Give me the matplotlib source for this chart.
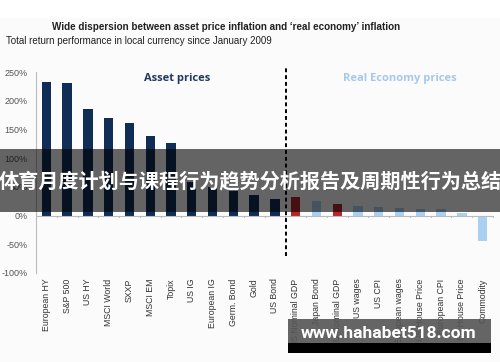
import matplotlib
matplotlib.use("Agg")
import matplotlib.pyplot as plt
from matplotlib.patches import Rectangle

categories = ["European HY", "S&P 500", "US HY", "MSCI World", "SXXP", "MSCI EM", "Topix",
              "US IG", "European IG", "Germ. Bond", "Gold", "US Bond",
              "US Nominal GDP", "Japan Bond", "EU Nominal GDP", "US wages", "US CPI",
              "European wages", "US House Price", "European CPI", "EA House Price", "Commodity"]
values = [233, 230, 185, 170, 161, 138, 126, 58, 50, 43, 36, 28,
          33, 26, 21, 17, 15, 13, 12, 12, 4, -44]
groups = ["asset"] * 12 + ["gdp", "real", "gdp", "real", "real", "real", "real", "real", "real", "real"]
yticks = [-100, -50, 0, 50, 100, 150, 200, 250]

title = "Wide dispersion between asset price inflation and \u2018real economy\u2019 inflation"
subtitle = "Total return performance in local currency since January 2009"
banner = "体育月度计划与课程行为趋势分析报告及周期性行为总结"
watermark = "www.hahabet518.com"

colors = {"asset": "#0f2d55", "gdp": "#b5262c", "real": "#a9d0f1"}
sans = ["Liberation Sans", "DejaVu Sans"]

fig = plt.figure(figsize=(5.0, 3.62), dpi=100, facecolor="#fbfbfb")
fig.patches.append(Rectangle((0, 1 - 17 / 362), 1, 17 / 362, transform=fig.transFigure,
                             color="white", zorder=0))

ax = fig.add_axes([36 / 500, 1 - 273 / 362, 457 / 500, (273 - 72) / 362])
ax.set_facecolor("none")
x = list(range(len(categories)))
ax.bar(x, values, width=0.45, color=[colors[g] for g in groups], zorder=2)
ax.set_xlim(-0.5, len(categories) - 0.5)
ax.set_ylim(-100, 250)
ax.set_yticks(yticks)
ax.set_yticklabels([f"{v}%" for v in yticks], fontsize=6.5, color="#555555", family=sans)
ax.tick_params(axis="y", length=0, pad=6)
ax.set_xticks(x)
ax.set_xticklabels(categories, rotation=90, fontsize=6.3, color="#333333", family=sans,
                   va="top")
ax.tick_params(axis="x", length=0, pad=4)
for s in ["top", "right", "bottom"]:
    ax.spines[s].set_visible(False)
ax.spines["left"].set_color("#bbbbbb")
ax.axhline(0, color="#bbbbbb", lw=0.8, zorder=3)
for b in range(len(categories) + 1):
    ax.plot([b - 0.5, b - 0.5], [0, -3], color="#bbbbbb", lw=0.7, zorder=3, clip_on=False)

ax.plot([11.55, 11.55], [-70, 259], color="black", lw=1.4, ls=(0, (2, 1.5)), clip_on=False, zorder=4)
ax.text(6.3, 238, "Asset prices", color="#1f3864", fontsize=8, fontweight="bold",
        ha="center", va="center", family=["Open Sans", "DejaVu Sans"])
ax.text(17.0, 238, "Real Economy prices", color="#a6c8ea", fontsize=8, fontweight="bold",
        ha="center", va="center", family=["Open Sans", "DejaVu Sans"])

fig.text(226 / 500, 1 - 27 / 362, title, ha="center", va="center", fontsize=7.1,
         fontweight="bold", color="#222222", family=sans)
fig.text(6 / 500, 1 - 41 / 362, subtitle, ha="left", va="center", fontsize=7.0,
         color="#222222", family=sans)

# overlay banner
fig.patches.append(Rectangle((0, 1 - 212 / 362), 1, 63 / 362, transform=fig.transFigure,
                             facecolor="black", alpha=0.6, zorder=10))
fig.text(0.5, 1 - 181 / 362, banner, ha="center", va="center", fontsize=14.5, fontweight="bold",
         color="white", family=["Noto Sans CJK SC", "DejaVu Sans"], zorder=11)

# watermark
fig.patches.append(Rectangle((288 / 500, 1 - 343 / 362), 203 / 500, 24 / 362,
                             transform=fig.transFigure, facecolor="#555555", alpha=0.9, zorder=10))
fig.patches.append(Rectangle((288 / 500, 1 - 353 / 362), 203 / 500, 10 / 362,
                             transform=fig.transFigure, facecolor="black", zorder=10))
fig.text(389 / 500, 1 - 333 / 362, watermark, ha="center", va="center", fontsize=12.5,
         fontweight="bold", color="white", family=["Roboto", "DejaVu Sans"], zorder=11)

fig.savefig("out.png", dpi=100, facecolor=fig.get_facecolor())
